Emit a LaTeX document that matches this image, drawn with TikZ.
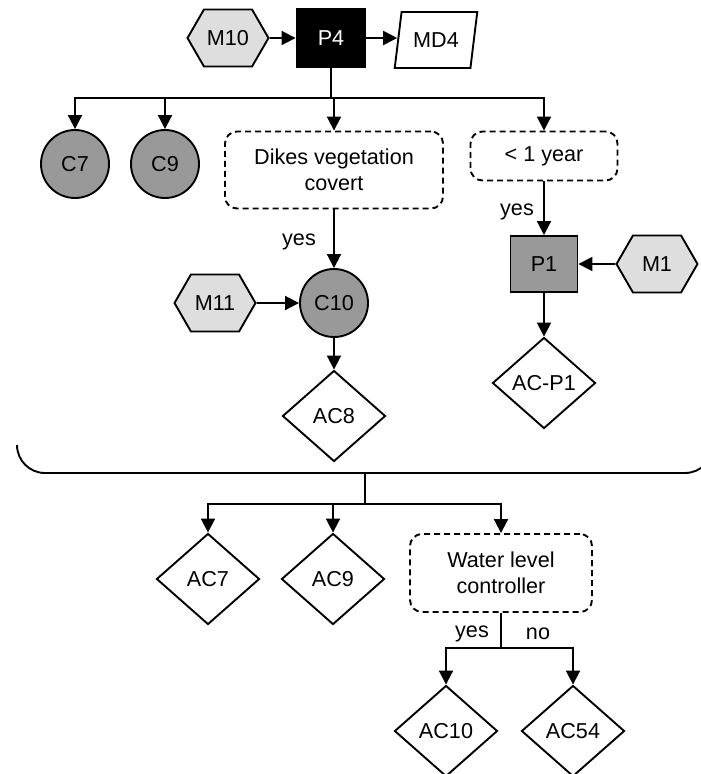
\documentclass[tikz,border=0pt]{standalone}
\usepackage{fontspec}
\setmainfont{Liberation Sans}
\usetikzlibrary{arrows.meta,shapes.geometric,shapes.symbols}

\definecolor{conceptgray}{HTML}{999999}
\definecolor{hexgray}{HTML}{DEDEDE}

\begin{document}
\begin{tikzpicture}[x=1pt,y=-1pt,
  every node/.style={font=\fontsize{21.6}{26}\selectfont, line width=1.9pt, inner sep=0pt},
  conn/.style={line width=1.9pt},
  arr/.style={conn, -{Triangle[length=14pt,width=14pt]}},
  concept/.style={circle, draw, fill=conceptgray, minimum size=68pt},
  hexbox/.style={signal, signal to=west and east, signal pointer angle=120,
    draw, fill=hexgray, minimum width=81pt, minimum height=57pt},
  procbox/.style={rectangle, draw, minimum width=67pt, minimum height=56pt},
  actbox/.style={diamond, draw, fill=white, minimum width=103pt, minimum height=91pt},
  testbox/.style={rectangle, rounded corners=12pt, draw, dash pattern=on 6pt off 4pt, align=center},
  datanode/.style={trapezium, trapezium left angle=73, trapezium right angle=107,
    trapezium stretches, draw, minimum width=83pt, minimum height=56pt}
]
\useasboundingbox (0,0) rectangle (701,774);

% top row: measure, process, data
\node[hexbox] (M10) at (228,38) {M10};
\node[procbox, fill=black, text=white, minimum width=69pt, minimum height=58pt] (P4) at (331,38) {P4};
\node[datanode] (MD4) at (436,40) {MD4};

% first level of the tree
\node[concept] (C7) at (75,164) {C7};
\node[concept] (C9) at (165,164) {C9};
\node[testbox, minimum width=218pt, minimum height=77pt] (dikes) at (334,170) {Dikes vegetation\\covert};
\node[testbox, minimum width=147pt, minimum height=49pt] (year) at (544,156) {< 1 year};

% branch under "< 1 year"
\node (yesB) at (517,212) {yes};
\node[procbox, fill=conceptgray] (P1) at (544,264) {P1};
\node[hexbox] (M1) at (657,264) {M1};
\node[actbox] (ACP1) at (544,383) {AC-P1};

% branch under the vegetation test
\node (yesA) at (299,242) {yes};
\node[concept] (C10) at (334,303) {C10};
\node[hexbox] (M11) at (215,303) {M11};
\node[actbox] (AC8) at (334,416) {AC8};

% lower group
\node[actbox] (AC7) at (208,579) {AC7};
\node[actbox] (AC9) at (333,579) {AC9};
\node[testbox, minimum width=182pt, minimum height=78pt] (water) at (501,573) {Water level\\controller};
\node (yesC) at (472,634) {yes};
\node (noC) at (538,634) {no};
\node[actbox] (AC10) at (446,731) {AC10};
\node[actbox] (AC54) at (573,731) {AC54};

% junction points
\coordinate (j1) at (331,98);
\coordinate (cbase) at (365,473);
\coordinate (j2) at (365,504);
\coordinate (j3) at (501,648);

% enclosing frame (lower part)
\draw[conn, rounded corners=28pt] (17,445) -- (17,473) -- (713,473) -- (713,445);

% connectors
\draw[arr] (M10) -- (P4);
\draw[arr] (P4.east) -- (P4.east -| MD4.west);
\draw[conn] (P4) -- (j1);
\draw[arr] (j1) -| (C7);
\draw[arr] (j1) -| (C9);
\draw[arr] (j1) -| (dikes);
\draw[arr] (j1) -| (year);
\draw[arr] (year) -- (P1);
\draw[arr] (M1) -- (P1);
\draw[arr] (P1) -- (ACP1);
\draw[arr] (dikes) -- (C10);
\draw[arr] (M11) -- (C10);
\draw[arr] (C10) -- (AC8);
\draw[conn] (cbase) -- (j2);
\draw[arr] (j2) -| (AC7);
\draw[arr] (j2) -| (AC9);
\draw[arr] (j2) -| (water);
\draw[conn] (water) -- (j3);
\draw[arr] (j3) -| (AC10);
\draw[arr] (j3) -| (AC54);
\end{tikzpicture}
\end{document}
